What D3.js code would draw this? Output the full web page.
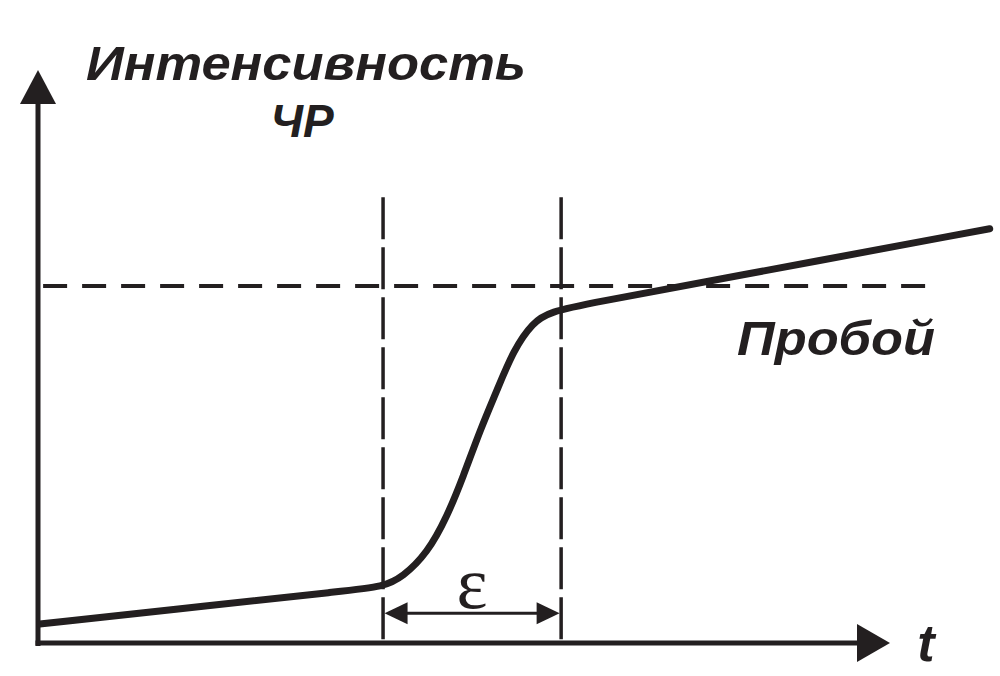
<!DOCTYPE html>
<html>
<head>
<meta charset="utf-8">
<script src="https://cdn.jsdelivr.net/npm/d3@7"></script>
<style>
  html, body { margin: 0; padding: 0; background: #fff; }
  svg { display: block; }
</style>
</head>
<body>
<script>
// ---- data (abstract units: time t, intensity of partial discharges) ----
const tValues   = [0.02, 2.00, 3.60, 4.05, 4.28, 4.57, 4.80, 4.99, 5.19, 5.39, 5.58, 5.81, 6.01, 6.48, 8.00, 11.17];
const intensity = [0.33, 0.65, 0.91, 0.98, 1.15, 1.57, 2.20, 2.90, 3.72, 4.42, 5.11, 5.60, 5.78, 5.93, 6.35, 7.23];
const breakdownLevel = 6.23;        // horizontal dashed line ("Пробой")
const markerTimes = [4.05, 6.14];   // vertical dashed lines bounding ε
const markerTop = 7.78;
const breakdownSpan = [0.06, 10.53];
const epsLevel = 0.52;
const labels = {
  yTitle: ["Интенсивность", "ЧР"],
  xTitle: "t",
  breakdown: "Пробой",
  eps: "ε"
};

const W = 1000, H = 676;
const ink = "#231f20";

const svg = d3.select("body").append("svg")
  .attr("width", W).attr("height", H);

const x = d3.scaleLinear().domain([0, 10]).range([38, 890]);
const y = d3.scaleLinear().domain([0, 10]).range([643, 70]);

// ---- axes with arrowheads ----
svg.append("line")
  .attr("x1", x(0)).attr("x2", x(0))
  .attr("y1", y(0) + 3).attr("y2", y(10) + 30)
  .attr("stroke", ink).attr("stroke-width", 5);
svg.append("line")
  .attr("x1", x(0) - 2.5).attr("x2", x(10) - 30)
  .attr("y1", y(0)).attr("y2", y(0))
  .attr("stroke", ink).attr("stroke-width", 5);

// y arrow
svg.append("path")
  .attr("d", `M${x(0)},${y(10)} L${x(0) - 18},${y(10) + 34} L${x(0) + 18},${y(10) + 34} Z`)
  .attr("fill", ink);
// x arrow
svg.append("path")
  .attr("d", `M${x(10)},${y(0)} L${x(10) - 33},${y(0) - 19} L${x(10) - 33},${y(0) + 19} Z`)
  .attr("fill", ink);

// ---- breakdown dashed line ----
svg.append("line")
  .attr("x1", x(breakdownSpan[0])).attr("x2", x(breakdownSpan[1]))
  .attr("y1", y(breakdownLevel)).attr("y2", y(breakdownLevel))
  .attr("stroke", ink).attr("stroke-width", 4)
  .attr("stroke-dasharray", "24 15");

// ---- vertical dashed lines ----
svg.selectAll("line.marker").data(markerTimes).enter().append("line")
  .attr("class", "marker")
  .attr("x1", d => x(d)).attr("x2", d => x(d))
  .attr("y1", y(markerTop)).attr("y2", y(0))
  .attr("stroke", ink).attr("stroke-width", 3.5)
  .attr("stroke-dasharray", "42 8");

// ---- curve ----
const line = d3.line()
  .x((d, i) => x(tValues[i]))
  .y((d, i) => y(intensity[i]))
  .curve(d3.curveBasis);
svg.append("path")
  .attr("d", line(tValues))
  .attr("fill", "none")
  .attr("stroke", ink)
  .attr("stroke-width", 7)
  .attr("stroke-linecap", "round")
  .attr("stroke-linejoin", "round");

// ---- epsilon double arrow ----
const ex1 = x(markerTimes[0]) + 1.5, ex2 = x(markerTimes[1]) - 1.5, ey = y(epsLevel);
svg.append("line")
  .attr("x1", ex1 + 15).attr("x2", ex2 - 15)
  .attr("y1", ey).attr("y2", ey)
  .attr("stroke", ink).attr("stroke-width", 3);
svg.append("path")
  .attr("d", `M${ex1},${ey} L${ex1 + 23},${ey - 11} L${ex1 + 23},${ey + 11} Z`)
  .attr("fill", ink);
svg.append("path")
  .attr("d", `M${ex2},${ey} L${ex2 - 23},${ey - 11} L${ex2 - 23},${ey + 11} Z`)
  .attr("fill", ink);

svg.append("text")
  .attr("x", 472).attr("y", ey - 5)
  .attr("text-anchor", "middle")
  .attr("font-family", "'Liberation Serif', 'DejaVu Serif', serif")
  .attr("font-size", 74)
  .attr("fill", ink)
  .text(labels.eps);

// ---- text labels ----
const boldItalic = sel => sel
  .attr("font-family", "'Liberation Sans', Arial, sans-serif")
  .attr("font-weight", "bold")
  .attr("font-style", "italic")
  .attr("fill", ink);

svg.append("text")
  .attr("x", 306).attr("y", 80)
  .attr("text-anchor", "middle")
  .attr("font-size", 49)
  .attr("textLength", 440)
  .attr("lengthAdjust", "spacingAndGlyphs")
  .call(boldItalic)
  .text(labels.yTitle[0]);

svg.append("text")
  .attr("x", 302).attr("y", 137)
  .attr("text-anchor", "middle")
  .attr("font-size", 46)
  .call(boldItalic)
  .text(labels.yTitle[1]);

svg.append("text")
  .attr("x", 836).attr("y", 355)
  .attr("text-anchor", "middle")
  .attr("font-size", 48)
  .attr("textLength", 198)
  .attr("lengthAdjust", "spacingAndGlyphs")
  .call(boldItalic)
  .text(labels.breakdown);

svg.append("text")
  .attr("x", 926).attr("y", 661)
  .attr("text-anchor", "middle")
  .attr("font-size", 52)
  .call(boldItalic)
  .text(labels.xTitle);
</script>
</body>
</html>
